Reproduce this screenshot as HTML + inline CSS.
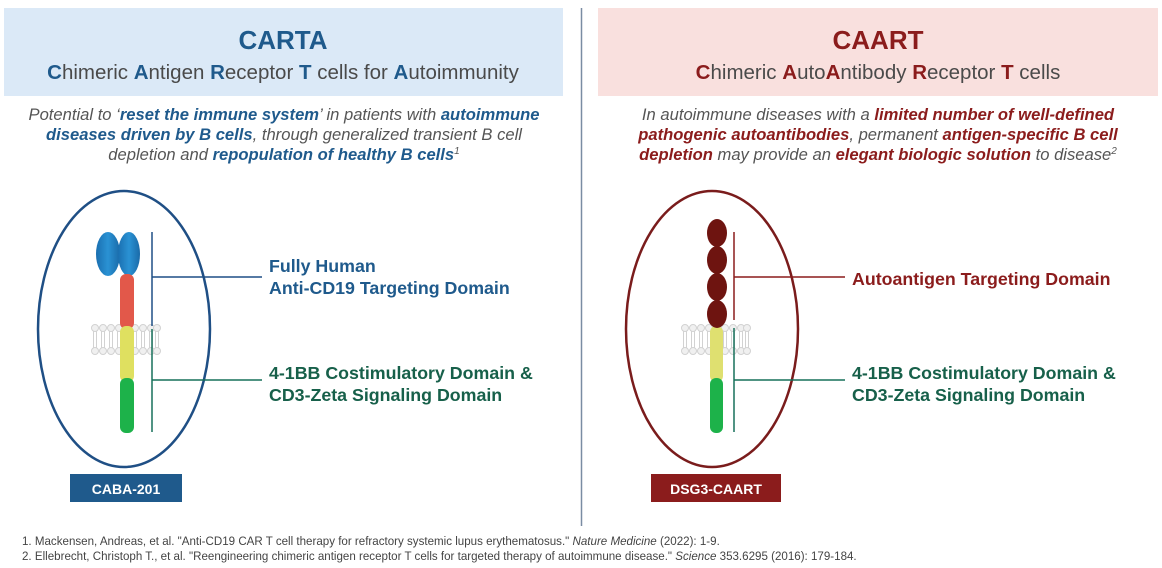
<!DOCTYPE html>
<html><head><meta charset="utf-8"><style>
body{margin:0;background:#fff;}
svg{display:block;font-family:"Liberation Sans",Arial,sans-serif;}
</style></head><body>
<svg width="1162" height="568" viewBox="0 0 1162 568" xmlns="http://www.w3.org/2000/svg">
<defs>
<g id="lipid" fill="#f0f0f0" stroke="#d2d2d2" stroke-width="1">
  <circle cx="0" cy="0" r="3.5"/><circle cx="0" cy="23" r="3.5"/>
  <line x1="-1.5" y1="3" x2="-1.5" y2="20"/><line x1="1.5" y1="3" x2="1.5" y2="20"/>
</g>
<linearGradient id="gb" x1="0" x2="1"><stop offset="0" stop-color="#1a6fb0"/><stop offset=".5" stop-color="#2a92d4"/><stop offset="1" stop-color="#1a6aa8"/></linearGradient>
</defs>
<rect x="4" y="8" width="559" height="88" fill="#dbe9f7"/>
<rect x="598" y="8" width="560" height="88" fill="#f9e0de"/>
<line x1="581.5" y1="8" x2="581.5" y2="526" stroke="#7a8ca3" stroke-width="1.5"/>

<text x="283" y="49" text-anchor="middle" font-size="26" font-weight="bold" fill="#1f5a8c">CARTA</text>
<text x="283" y="79" text-anchor="middle" font-size="20.5" fill="#4a4a4a"><tspan font-weight="bold" fill="#1f5a8c">C</tspan>himeric <tspan font-weight="bold" fill="#1f5a8c">A</tspan>ntigen <tspan font-weight="bold" fill="#1f5a8c">R</tspan>eceptor <tspan font-weight="bold" fill="#1f5a8c">T</tspan> cells for <tspan font-weight="bold" fill="#1f5a8c">A</tspan>utoimmunity</text>
<g font-size="16.6" font-style="italic" fill="#555" text-anchor="middle">
<text x="284" y="120">Potential to ‘<tspan font-weight="bold" fill="#1f5a8c">reset the immune system</tspan>’ in patients with <tspan font-weight="bold" fill="#1f5a8c">autoimmune</tspan></text>
<text x="284" y="140"><tspan font-weight="bold" fill="#1f5a8c">diseases driven by B cells</tspan>, through generalized transient B cell</text>
<text x="284" y="160">depletion and <tspan font-weight="bold" fill="#1f5a8c">repopulation of healthy B cells</tspan><tspan font-size="10" dy="-6">1</tspan></text>
</g>

<text x="878" y="49" text-anchor="middle" font-size="26" font-weight="bold" fill="#8b1c1c">CAART</text>
<text x="878" y="79" text-anchor="middle" font-size="20.5" fill="#4a4a4a"><tspan font-weight="bold" fill="#8b1c1c">C</tspan>himeric <tspan font-weight="bold" fill="#8b1c1c">A</tspan>uto<tspan font-weight="bold" fill="#8b1c1c">A</tspan>ntibody <tspan font-weight="bold" fill="#8b1c1c">R</tspan>eceptor <tspan font-weight="bold" fill="#8b1c1c">T</tspan> cells</text>
<g font-size="16.6" font-style="italic" fill="#555" text-anchor="middle">
<text x="878" y="120">In autoimmune diseases with a <tspan font-weight="bold" fill="#8b1c1c">limited number of well-defined</tspan></text>
<text x="878" y="140"><tspan font-weight="bold" fill="#8b1c1c">pathogenic autoantibodies</tspan>, permanent <tspan font-weight="bold" fill="#8b1c1c">antigen-specific B cell</tspan></text>
<text x="878" y="160"><tspan font-weight="bold" fill="#8b1c1c">depletion</tspan> may provide an <tspan font-weight="bold" fill="#8b1c1c">elegant biologic solution</tspan> to disease<tspan font-size="10" dy="-6">2</tspan></text>
</g>

<!-- LEFT diagram -->
<ellipse cx="124" cy="329" rx="86" ry="138" fill="none" stroke="#1f4f85" stroke-width="2.5"/>
<g>
<use href="#lipid" x="95" y="328"/><use href="#lipid" x="103" y="328"/><use href="#lipid" x="111" y="328"/><use href="#lipid" x="119" y="328"/><use href="#lipid" x="127" y="328"/><use href="#lipid" x="135" y="328"/><use href="#lipid" x="143" y="328"/><use href="#lipid" x="151" y="328"/><use href="#lipid" x="157" y="328"/>
</g>
<ellipse cx="108" cy="254" rx="12" ry="22" fill="url(#gb)"/>
<ellipse cx="129" cy="254" rx="11" ry="22" fill="url(#gb)"/>
<rect x="120" y="274" width="14" height="55" rx="6" fill="#e2584a"/>
<rect x="120" y="326" width="14" height="56" rx="6" fill="#dfe060"/>
<rect x="120" y="378" width="14" height="55" rx="6" fill="#1db24a"/>
<line x1="152" y1="232" x2="152" y2="326" stroke="#1f4f85" stroke-width="1.5"/>
<line x1="152" y1="277" x2="262" y2="277" stroke="#1f4f85" stroke-width="1.5"/>
<line x1="152" y1="329" x2="152" y2="432" stroke="#17705a" stroke-width="1.5"/>
<line x1="152" y1="380" x2="262" y2="380" stroke="#17705a" stroke-width="1.5"/>
<g font-size="17.8" font-weight="bold">
<text x="269" y="272" fill="#1f5a8c">Fully Human</text>
<text x="269" y="294" fill="#1f5a8c">Anti-CD19 Targeting Domain</text>
<text x="269" y="379" fill="#17604a">4-1BB Costimulatory Domain &amp;</text>
<text x="269" y="401" fill="#17604a">CD3-Zeta Signaling Domain</text>
</g>
<rect x="70" y="474" width="112" height="28" fill="#1f5a8c"/>
<text x="126" y="494" text-anchor="middle" font-size="14" font-weight="bold" fill="#fff">CABA-201</text>

<!-- RIGHT diagram -->
<ellipse cx="712" cy="329" rx="86" ry="138" fill="none" stroke="#7a1c1c" stroke-width="2.5"/>
<g>
<use href="#lipid" x="685" y="328"/><use href="#lipid" x="693" y="328"/><use href="#lipid" x="701" y="328"/><use href="#lipid" x="709" y="328"/><use href="#lipid" x="717" y="328"/><use href="#lipid" x="725" y="328"/><use href="#lipid" x="733" y="328"/><use href="#lipid" x="741" y="328"/><use href="#lipid" x="747" y="328"/>
</g>
<rect x="710" y="326" width="13" height="56" rx="6" fill="#dfe070"/>
<rect x="710" y="378" width="13" height="55" rx="6" fill="#1db24a"/>
<g fill="#6e1410">
<ellipse cx="717" cy="233" rx="10" ry="14"/>
<ellipse cx="717" cy="260" rx="10" ry="14"/>
<ellipse cx="717" cy="287" rx="10" ry="14"/>
<ellipse cx="717" cy="314" rx="10" ry="14"/>
</g>
<line x1="734" y1="232" x2="734" y2="320" stroke="#8b1c1c" stroke-width="1.5"/>
<line x1="734" y1="277" x2="845" y2="277" stroke="#8b1c1c" stroke-width="1.5"/>
<line x1="734" y1="328" x2="734" y2="432" stroke="#17705a" stroke-width="1.5"/>
<line x1="734" y1="380" x2="845" y2="380" stroke="#17705a" stroke-width="1.5"/>
<g font-size="17.8" font-weight="bold">
<text x="852" y="285" fill="#8b1c1c">Autoantigen Targeting Domain</text>
<text x="852" y="379" fill="#17604a">4-1BB Costimulatory Domain &amp;</text>
<text x="852" y="401" fill="#17604a">CD3-Zeta Signaling Domain</text>
</g>
<rect x="651" y="474" width="130" height="28" fill="#8b1c1c"/>
<text x="716" y="494" text-anchor="middle" font-size="14" font-weight="bold" fill="#fff">DSG3-CAART</text>

<!-- footnotes -->
<g font-size="12" fill="#444" transform="translate(22,0) scale(0.965,1)">
<text x="0" y="545">1. Mackensen, Andreas, et al. "Anti-CD19 CAR T cell therapy for refractory systemic lupus erythematosus." <tspan font-style="italic">Nature Medicine</tspan> (2022): 1-9.</text>
<text x="0" y="560">2. Ellebrecht, Christoph T., et al. "Reengineering chimeric antigen receptor T cells for targeted therapy of autoimmune disease." <tspan font-style="italic">Science</tspan> 353.6295 (2016): 179-184.</text>
</g>
</svg>
</body></html>
